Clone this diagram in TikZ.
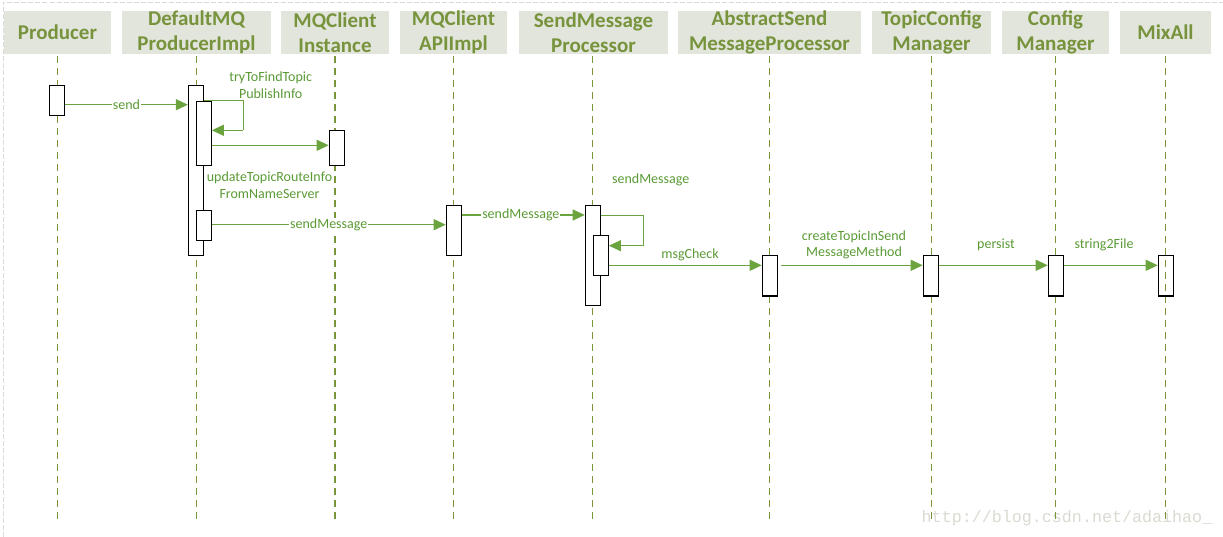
\documentclass[tikz,border=0pt]{standalone}
\usepackage{fontspec}
\setmainfont{Carlito}
\newfontfamily\wmfont{Liberation Mono}
\usetikzlibrary{arrows.meta}
\definecolor{hdrfill}{HTML}{E2E5DC}
\definecolor{hdrtext}{HTML}{77933C}
\definecolor{lifec}{HTML}{7A9638}
\definecolor{msgc}{HTML}{6BA43F}
\definecolor{lblc}{HTML}{5A9A35}
\definecolor{wmc}{HTML}{DADAD2}
\definecolor{borderc}{HTML}{DADADA}
\begin{document}
\begin{tikzpicture}[x=1pt,y=-1pt,
 hdr/.style={fill=hdrfill, text=hdrtext, font=\fontsize{21}{25}\selectfont\bfseries, align=center, minimum height=43pt, inner sep=0pt},
 life/.style={draw=lifec, line width=1.2pt, dash pattern=on 7.3pt off 4.7pt},
 act/.style={draw=black, line width=1.2pt, fill=white, minimum width=15pt, inner sep=0pt, anchor=north},
 actclear/.style={act, fill=none},
 msg/.style={draw=msgc, line width=1.2pt, -{Triangle[length=12pt,width=11pt]}},
 loopl/.style={draw=msgc, line width=1.2pt},
 lbl/.style={text=lblc, font=\fontsize{14}{16.6}\selectfont, align=center, inner sep=1pt},
 lblw/.style={lbl, fill=white},
 border/.style={draw=borderc, line width=0.8pt, dash pattern=on 5pt off 2pt},
]
\useasboundingbox (0,0) rectangle (1223,537);

% page border
\coordinate (tl) at (3,2.5);
\coordinate (tr) at (1223,2.5);
\coordinate (bl) at (3,537);
\draw[border] (bl) -- (tl) -- (tr);

% headers
\node[hdr, minimum width=107pt] (h1) at (57.5,32.5) {Producer};
\node[hdr, minimum width=149pt] (h2) at (196.5,32.5) {DefaultMQ\\ProducerImpl};
\node[hdr, minimum width=108pt] (h3) at (335,32.5) {MQClient\\Instance};
\node[hdr, minimum width=107pt] (h4) at (453.5,32.5) {MQClient\\APIImpl};
\node[hdr, minimum width=149pt] (h5) at (593.5,32.5) {SendMessage\\Processor};
\node[hdr, minimum width=183pt] (h6) at (769.5,32.5) {AbstractSend\\MessageProcessor};
\node[hdr, minimum width=119pt] (h7) at (931.5,32.5) {TopicConfig\\Manager};
\node[hdr, minimum width=107pt] (h8) at (1055.5,32.5) {Config\\Manager};
\node[hdr, minimum width=91pt] (h9) at (1165.5,32.5) {MixAll};

% watermark
\node[text=wmc, font=\wmfont\fontsize{16.7}{18}\selectfont, inner sep=0pt] (wm) at (1067,518) {http://blog.csdn.net/adaihao\_};

% lifelines
\coordinate (bot) at (0,519);
\draw[life] (57.3,56) coordinate (l1) -- (l1 |- bot);
\draw[life] (196.3,56) coordinate (l2) -- (l2 |- bot);
\draw[life] (335,56) coordinate (l3) -- (l3 |- bot);
\draw[life] (453.3,56) coordinate (l4) -- (l4 |- bot);
\draw[life] (592.3,56) coordinate (l5) -- (l5 |- bot);
\draw[life] (769.3,56) coordinate (l6) -- (l6 |- bot);
\draw[life] (931.3,56) coordinate (l7) -- (l7 |- bot);
\draw[life] (1055.3,56) coordinate (l8) -- (l8 |- bot);
\draw[life] (1165.3,56) coordinate (l9) -- (l9 |- bot);

% activation boxes
\node[act, minimum height=29.7pt] (pA) at (56.8,85.3) {};
\node[act, minimum height=169.7pt] (dO) at (196,85.3) {};
\node[act, minimum height=64.6pt] (dI1) at (203.7,100.7) {};
\node[act, minimum height=29.7pt] (dI2) at (203.7,210.3) {};
\node[act, minimum height=35pt] (cI) at (336.8,130.3) {};
\node[act, minimum height=50pt] (aA) at (453.8,205) {};
\node[act, minimum height=100pt] (sO) at (592.8,205) {};
\node[act, minimum height=40pt] (sI) at (600.8,235.3) {};
\node[act, minimum height=40pt] (abA) at (769.8,255.3) {};
\node[act, minimum height=40pt] (tA) at (930.8,255.3) {};
\node[act, minimum height=40pt] (cA) at (1055.8,255.3) {};
\node[actclear, minimum height=40pt] (mA) at (1165.8,255.3) {};

% message levels
\coordinate (y1) at (0,104.7);
\coordinate (y2a) at (0,100.7);
\coordinate (y2b) at (0,130.3);
\coordinate (y3) at (0,145.3);
\coordinate (y4) at (0,224.7);
\coordinate (y5) at (0,215);
\coordinate (y6a) at (0,215.7);
\coordinate (y6b) at (0,245.7);
\coordinate (y7) at (0,265.3);
\coordinate (lx1) at (243.3,0);
\coordinate (lx2) at (643.7,0);

% send
\draw[msg] (pA.east |- y1) -- node[lblw] {send} (dO.west |- y1);
% tryToFindTopicPublishInfo (self call)
\draw[loopl] (dO.east |- y2a) -- (lx1 |- y2a) -- (lx1 |- y2b);
\draw[msg] (lx1 |- y2b) -- (dI1.east |- y2b);
\node[lblw] (lt) at (270.7,85) {tryToFindTopic\\PublishInfo};
% updateTopicRouteInfoFromNameServer
\draw[msg] (dI1.east |- y3) -- (cI.west |- y3);
\node[lbl] (lu) at (269.5,185.3) {updateTopicRouteInfo\\FromNameServer};
% sendMessage to API
\draw[msg] (dI2.east |- y4) -- node[lblw, pos=0.5] {sendMessage} (aA.west |- y4);
% sendMessage to processor
\draw[msg] (aA.east |- y5) -- node[lblw, pos=0.48] {sendMessage} (sO.west |- y5);
% processor self call
\draw[loopl] (sO.east |- y6a) -- (lx2 |- y6a) -- (lx2 |- y6b);
\draw[msg] (lx2 |- y6b) -- (sI.east |- y6b);
\node[lbl] (ls) at (650.7,180) {sendMessage};
% msgCheck
\draw[msg] (sI.east |- y7) -- (abA.west |- y7);
\node[lbl] (lm) at (690,254.5) {msgCheck};
% createTopicInSendMessageMethod
\draw[msg, shorten <=3.5pt] (abA.east |- y7) -- (tA.west |- y7);
\node[lbl] (lc) at (854,244.7) {createTopicInSend\\MessageMethod};
% persist
\draw[msg] (tA.east |- y7) -- (cA.west |- y7);
\node[lbl] (lp) at (996,245) {persist};
% string2File
\draw[msg] (cA.east |- y7) -- (mA.west |- y7);
\node[lbl] (lf) at (1104,245) {string2File};
\end{tikzpicture}
\end{document}
